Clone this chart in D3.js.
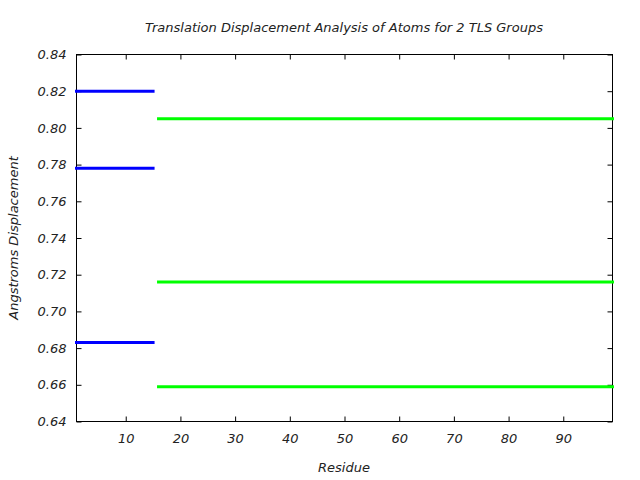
<!DOCTYPE html>
<html>
<head>
<meta charset="utf-8">
<script src="https://cdn.jsdelivr.net/npm/d3@7"></script>
<style>
  body { margin: 0; background: #fff; }
  text { font-family: "DejaVu Sans", sans-serif; font-style: italic; fill: #222; }
</style>
</head>
<body>
<svg id="svg_elem"></svg>
<script>
//define constants
const svgWidth = 640;
const svgHeight = 480;
const plotLeft = 76.5;
const plotRight = 612.5;
const plotTop = 54.5;
const plotBottom = 421.5;

//define data: one segment per TLS group row
const groupColors = ['#0000ff', '#00ff00'];
const segStart = [1, 1, 1, 16, 16, 16];
const segEnd = [15, 15, 15, 99, 99, 99];
const segValue = [0.820, 0.778, 0.683, 0.805, 0.716, 0.659];
const segGroup = [0, 0, 0, 1, 1, 1];
const xTicks = [10, 20, 30, 40, 50, 60, 70, 80, 90];
const yTicks = [0.64, 0.66, 0.68, 0.70, 0.72, 0.74, 0.76, 0.78, 0.80, 0.82, 0.84];

var segments = segValue.map((v, i) => ({x0: segStart[i], x1: segEnd[i], y: v, g: segGroup[i]}));

//configure svg window
var svg = d3.select('#svg_elem')
	.attr('width', svgWidth)
	.attr('height', svgHeight);

//scales
var xScale = d3.scaleLinear().domain([1, 99]).range([plotLeft, plotRight]);
var yScale = d3.scaleLinear().domain([0.64, 0.84]).range([plotBottom, plotTop]);

//axes with inward ticks, mirrored on top/right
const tickLen = 5;
svg.append('g')
	.attr('transform', `translate(0, ${plotBottom})`)
	.call(d3.axisBottom(xScale).tickValues(xTicks).tickSizeInner(-tickLen).tickSizeOuter(0).tickPadding(12));
svg.append('g')
	.attr('transform', `translate(0, ${plotTop})`)
	.call(d3.axisTop(xScale).tickValues(xTicks).tickSizeInner(-tickLen).tickSizeOuter(0).tickFormat(''));
svg.append('g')
	.attr('transform', `translate(${plotLeft}, 0)`)
	.call(d3.axisLeft(yScale).tickValues(yTicks).tickSizeInner(-tickLen).tickSizeOuter(0).tickPadding(10).tickFormat(d3.format('.2f')));
svg.append('g')
	.attr('transform', `translate(${plotRight}, 0)`)
	.call(d3.axisRight(yScale).tickValues(yTicks).tickSizeInner(-tickLen).tickSizeOuter(0).tickFormat(''));

svg.selectAll('.domain').remove();
svg.selectAll('.tick line').attr('stroke', '#000');
svg.selectAll('.tick text')
	.style('font-size', '13px')
	.style('font-family', '"DejaVu Sans", sans-serif')
	.style('font-style', 'italic')
	.attr('fill', '#222');

//plot border
svg.append('rect')
	.attr('x', plotLeft)
	.attr('y', plotTop)
	.attr('width', plotRight - plotLeft)
	.attr('height', plotBottom - plotTop)
	.attr('fill', 'none')
	.attr('stroke', '#000')
	.attr('stroke-width', 1);

//segments
svg.selectAll('.seg')
	.data(segments)
	.enter()
	.append('line')
		.classed('seg', true)
		.attr('x1', d => xScale(d.x0))
		.attr('x2', d => xScale(d.x1))
		.attr('y1', d => yScale(d.y))
		.attr('y2', d => yScale(d.y))
		.attr('stroke', d => groupColors[d.g])
		.attr('stroke-width', 3)
		.attr('stroke-linecap', 'square');

//titles
svg.append('text')
	.text('Translation Displacement Analysis of Atoms for 2 TLS Groups')
	.attr('x', 344)
	.attr('y', 32)
	.attr('text-anchor', 'middle')
	.style('font-size', '13px');
svg.append('text')
	.text('Residue')
	.attr('x', 344)
	.attr('y', 472)
	.attr('text-anchor', 'middle')
	.style('font-size', '13px');
svg.append('text')
	.text('Angstroms Displacement')
	.attr('transform', `translate(18, ${(plotTop + plotBottom) / 2}) rotate(-90)`)
	.attr('text-anchor', 'middle')
	.style('font-size', '13px');
</script>
</body>
</html>
